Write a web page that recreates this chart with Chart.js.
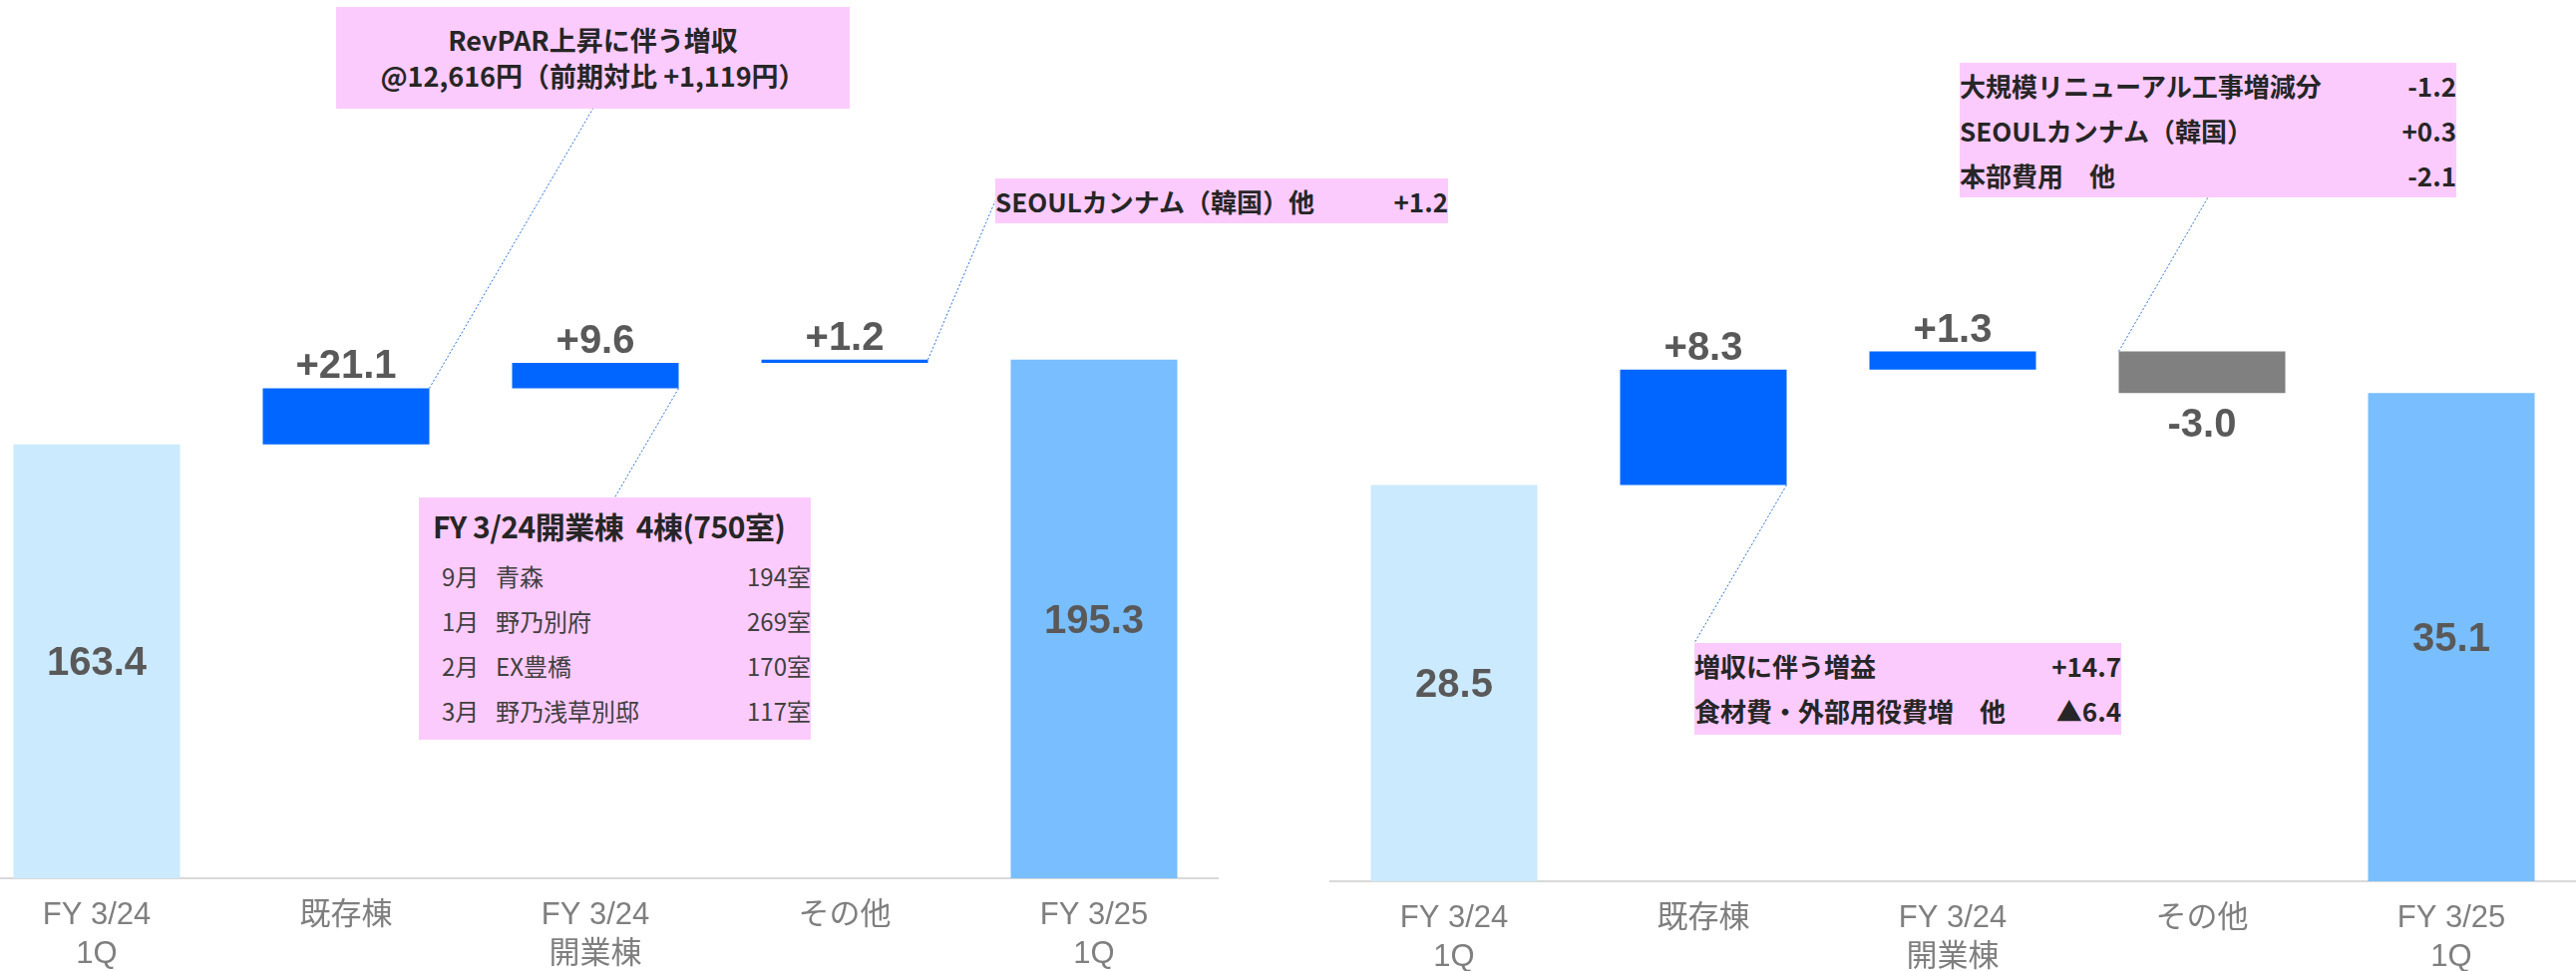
<!DOCTYPE html>
<html>
<head>
<meta charset="utf-8">
<script src="https://cdn.jsdelivr.net/npm/chart.js@4.4.1/dist/chart.umd.min.js"></script>
<style>
body{margin:0;width:2583px;height:974px;overflow:hidden;background:#fff;position:relative;font-family:"Noto Sans CJK JP",sans-serif;}
canvas{position:absolute;top:0;}
#salesChart{left:-28px;}
#profitChart{left:1333px;}
.box{position:absolute;background:#fccbfd;color:#262626;font-weight:700;font-size:26px;box-sizing:border-box;white-space:nowrap;}
.row{position:relative;height:45px;line-height:45px;}
.row .r{position:absolute;right:0;top:0;}
#boxA{left:337px;top:7px;width:515px;height:102px;text-align:center;font-size:27px;line-height:36px;padding-top:15px;}
#boxB{left:998px;top:179px;width:454px;height:45px;}
#boxC{left:420px;top:499px;width:393px;height:243px;}
#boxC .title{height:56px;line-height:56px;padding-left:14px;font-size:30px;letter-spacing:-0.5px;}
#boxC .row{font-weight:400;font-size:24px;color:#404040;}
#boxC .m{position:absolute;left:23px;}
#boxC .n{position:absolute;left:77px;}
#boxD{left:1965px;top:63px;width:498px;height:135px;}
#boxE{left:1699px;top:645px;width:428px;height:92px;}
</style>
</head>
<body>
<canvas id="salesChart" width="1250" height="974"></canvas>
<canvas id="profitChart" width="1250" height="974"></canvas>

<div class="box" id="boxA">RevPAR上昇に伴う増収<br>@12,616円（前期対比 +1,119円）</div>
<div class="box" id="boxB"><div class="row">SEOULカンナム（韓国）他<span class="r">+1.2</span></div></div>
<div class="box" id="boxC">
  <div class="title">FY 3/24開業棟&nbsp;&nbsp;4棟(750室)</div>
  <div class="row"><span class="m">9月</span><span class="n">青森</span><span class="r">194室</span></div>
  <div class="row"><span class="m">1月</span><span class="n">野乃別府</span><span class="r">269室</span></div>
  <div class="row"><span class="m">2月</span><span class="n">EX豊橋</span><span class="r">170室</span></div>
  <div class="row"><span class="m">3月</span><span class="n">野乃浅草別邸</span><span class="r">117室</span></div>
</div>
<div class="box" id="boxD">
  <div class="row">大規模リニューアル工事増減分<span class="r">-1.2</span></div>
  <div class="row">SEOULカンナム（韓国）<span class="r">+0.3</span></div>
  <div class="row">本部費用　他<span class="r">-2.1</span></div>
</div>
<div class="box" id="boxE">
  <div class="row">増収に伴う増益<span class="r">+14.7</span></div>
  <div class="row">食材費・外部用役費増　他<span class="r">▲6.4</span></div>
</div>

<script>
// categories and values
var categories = [['FY 3/24', '1Q'], '既存棟', ['FY 3/24', '開業棟'], 'その他', ['FY 3/25', '1Q']];
var barKinds = ['start', 'delta', 'delta', 'delta', 'end'];
var salesValues = [163.4, 21.1, 9.6, 1.2, 195.3];
var profitValues = [28.5, 8.3, 1.3, -3.0, 35.1];

var startColor = '#cceafd';
var endColor = '#79beff';
var upColor = '#0066ff';
var downColor = '#808080';

function toRanges(values){
	var out = [];
	var run = 0;
	for (var i = 0; i < values.length; i++) {
		if (barKinds[i] == 'delta') {
			out.push([run, run + values[i]]);
			run += values[i];
		} else {
			out.push([0, values[i]]);
			run = values[i];
		}
	}
	return out;
}

function barColors(values){
	return values.map(function(v, i){
		if (barKinds[i] == 'start') return startColor;
		if (barKinds[i] == 'end') return endColor;
		return v < 0 ? downColor : upColor;
	});
}

// value labels on the bars
var valueLabels = {
	id: 'valueLabels',
	afterDatasetsDraw: function(chart){
		var values = chart.options.plugins.valueLabels.values;
		var ctx = chart.ctx;
		var bars = chart.getDatasetMeta(0).data;
		ctx.save();
		ctx.font = 'bold 40px "Liberation Sans", Arial, sans-serif';
		ctx.fillStyle = '#595959';
		ctx.textAlign = 'center';
		ctx.textBaseline = 'alphabetic';
		for (var i = 0; i < bars.length; i++) {
			var b = bars[i];
			var top = Math.min(b.y, b.base), bottom = Math.max(b.y, b.base);
			var v = values[i];
			if (barKinds[i] != 'delta') {
				ctx.fillText(v.toFixed(1), b.x, (top + bottom) / 2 + 14);
			} else if (v >= 0) {
				ctx.fillText('+' + v.toFixed(1), b.x, top - 10);
			} else {
				ctx.fillText(v.toFixed(1), b.x, bottom + 44);
			}
		}
		ctx.restore();
	}
};

// thin leader lines from bars to the note boxes
function boxPoint(canvas, id, where){
	var el = document.getElementById(id);
	var x = el.offsetLeft - canvas.offsetLeft;
	var y = el.offsetTop - canvas.offsetTop;
	var w = el.offsetWidth, h = el.offsetHeight;
	if (where == 'bottomCenter') return [x + w / 2, y + h];
	if (where == 'topCenter') return [x + w / 2, y];
	if (where == 'leftMiddle') return [x, y + h / 2];
	return [x, y]; // topLeft
}

var leaderLines = {
	id: 'leaderLines',
	afterDraw: function(chart){
		var lines = chart.options.plugins.leaderLines.lines;
		var ctx = chart.ctx;
		var bars = chart.getDatasetMeta(0).data;
		ctx.save();
		ctx.strokeStyle = '#2f6fd6';
		ctx.lineWidth = 1;
		ctx.setLineDash([2, 2]);
		lines.forEach(function(l){
			var b = bars[l.bar];
			var top = Math.min(b.y, b.base), bottom = Math.max(b.y, b.base);
			var bx = l.side == 'right' ? b.x + b.width / 2 : b.x - b.width / 2;
			var by = l.edge == 'top' ? top : bottom;
			var p = boxPoint(chart.canvas, l.box, l.at);
			ctx.beginPath();
			ctx.moveTo(bx, by);
			ctx.lineTo(p[0], p[1]);
			ctx.stroke();
		});
		ctx.restore();
	}
};

function makeChart(id, values, yMax, axisHeight, lines){
	var ctx = document.getElementById(id).getContext('2d');
	return new Chart(ctx, {
		type: 'bar',
		data: {
			labels: categories,
			datasets: [{
				data: toRanges(values),
				backgroundColor: barColors(values),
				borderWidth: 0,
				barPercentage: 0.668,
				categoryPercentage: 1
			}]
		},
		options: {
			responsive: false,
			animation: false,
			layout: {padding: 0},
			plugins: {
				legend: {display: false},
				tooltip: {enabled: false},
				valueLabels: {values: values},
				leaderLines: {lines: lines}
			},
			scales: {
				x: {
					grid: {display: false, drawTicks: false},
					border: {display: true, color: '#d9d9d9', width: 2},
					ticks: {
						color: '#7f7f7f',
						padding: 18,
						maxRotation: 0,
						autoSkip: false,
						font: {family: '"Liberation Sans", Arial, "Noto Sans CJK JP", sans-serif', size: 31, lineHeight: '39px'}
					},
					afterFit: function(scale){ scale.height = axisHeight; }
				},
				y: {
					display: false,
					min: 0,
					max: yMax
				}
			}
		},
		plugins: [valueLabels, leaderLines]
	});
}

makeChart('salesChart', salesValues, 330.7, 93, [
	{bar: 1, side: 'right', edge: 'top', box: 'boxA', at: 'bottomCenter'},
	{bar: 2, side: 'right', edge: 'bottom', box: 'boxC', at: 'topCenter'},
	{bar: 3, side: 'right', edge: 'top', box: 'boxB', at: 'leftMiddle'}
]);
makeChart('profitChart', profitValues, 63.37, 90, [
	{bar: 1, side: 'right', edge: 'bottom', box: 'boxE', at: 'topLeft'},
	{bar: 3, side: 'left', edge: 'top', box: 'boxD', at: 'bottomCenter'}
]);
</script>
</body>
</html>
